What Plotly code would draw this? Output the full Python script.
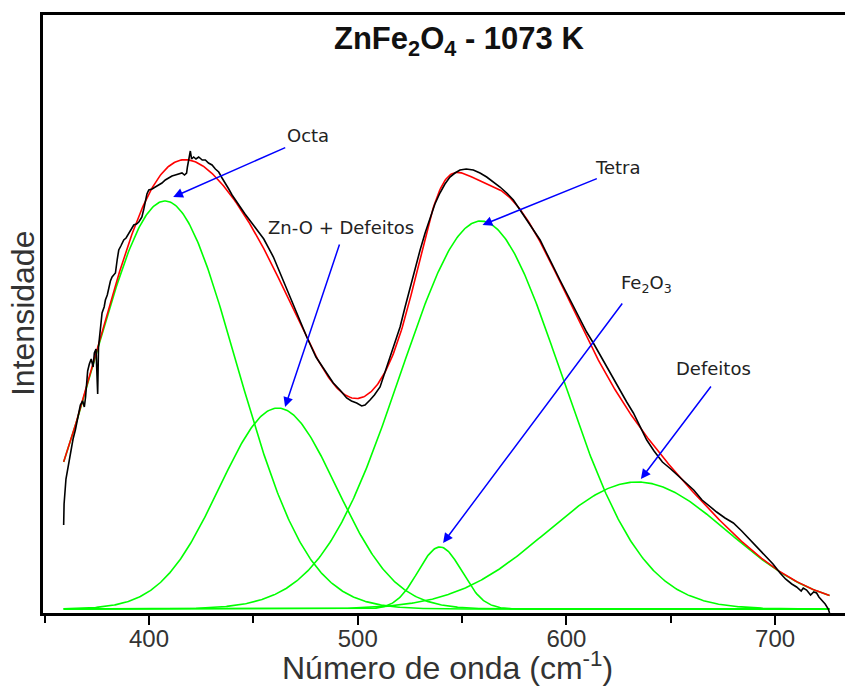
import numpy as np
import plotly.graph_objects as go

# Measured IR spectrum of ZnFe2O4 calcined at 1073 K (wavenumber in cm^-1, intensity in a.u.)
wavenumber = [
    359.1, 359.3, 360.2, 361.4, 362.5, 363.6, 364.7, 366.0, 367.1, 368.2,
    369.0, 369.6, 370.6, 371.4, 372.3, 373.2, 373.8, 374.6, 375.0, 375.4,
    375.8, 376.7, 377.5, 378.5, 379.1, 380.0, 380.7, 381.5, 382.3, 383.2,
    383.9, 384.8, 385.5, 386.5, 387.9, 389.0, 390.3, 391.5, 392.7, 394.0,
    395.1, 396.0, 396.6, 397.5, 398.2, 399.0, 399.9, 401.5, 403.0, 404.6,
    406.2, 407.8, 409.4, 411.0, 412.6, 414.2, 415.8, 417.0, 418.0, 418.4,
    419.2, 419.8, 420.4, 421.4, 422.5, 423.8, 425.5, 427.0, 428.5, 430.2,
    431.8, 433.4, 435.0, 436.6, 438.2, 439.8, 442.0, 444.6, 446.0, 450.0,
    455.0, 459.6, 464.0, 469.1, 472.0, 475.6, 480.0, 485.1, 488.3, 491.5,
    494.7, 497.0, 499.5, 501.9, 503.5, 505.9, 508.0, 510.7, 513.0, 515.5,
    518.0, 520.3, 522.7, 525.1, 527.5, 529.9, 532.3, 534.7, 537.0, 539.4,
    541.8, 544.2, 546.6, 549.0, 552.0, 555.4, 558.6, 561.8, 565.0, 568.2,
    571.4, 574.6, 577.8, 581.0, 584.2, 587.4, 590.5, 593.7, 596.9, 600.1,
    603.3, 606.5, 609.7, 612.9, 616.1, 619.3, 622.5, 625.7, 628.9, 632.1,
    635.3, 638.5, 642.0, 646.0, 650.0, 654.0, 657.5, 661.0, 665.0, 668.8,
    672.0, 676.0, 680.0, 684.0, 688.0, 691.2, 695.0, 699.0, 702.4, 705.0,
    708.0, 710.3, 712.5, 713.5, 715.1, 717.0, 718.5, 719.9, 721.0, 722.3,
    724.0, 725.5, 726.1,
]
intensity = [
    0.84, 1.05, 1.30, 1.44, 1.58, 1.70, 1.79, 1.92, 2.04, 2.08,
    2.02, 2.12, 2.38, 2.45, 2.50, 2.42, 2.56, 2.60, 2.20, 2.15,
    2.62, 2.82, 2.96, 3.02, 3.09, 3.14, 3.22, 3.28, 3.32, 3.34,
    3.36, 3.50, 3.59, 3.63, 3.69, 3.71, 3.76, 3.80, 3.84, 3.85,
    3.87, 3.90, 3.92, 4.00, 4.09, 4.15, 4.19, 4.20, 4.22, 4.24,
    4.26, 4.29, 4.31, 4.33, 4.34, 4.35, 4.36, 4.34, 4.36, 4.42,
    4.50, 4.58, 4.50, 4.52, 4.50, 4.52, 4.49, 4.49, 4.46, 4.44,
    4.40, 4.37, 4.31, 4.26, 4.20, 4.14, 4.07, 3.99, 3.95, 3.84,
    3.70, 3.52, 3.30, 3.06, 2.90, 2.72, 2.52, 2.36, 2.26, 2.19,
    2.11, 2.08, 2.06, 2.03, 2.04, 2.09, 2.14, 2.22, 2.36, 2.52,
    2.67, 2.82, 3.02, 3.22, 3.41, 3.59, 3.76, 3.92, 4.05, 4.16,
    4.25, 4.32, 4.36, 4.39, 4.40, 4.39, 4.36, 4.32, 4.27, 4.22,
    4.16, 4.09, 3.99, 3.89, 3.79, 3.69, 3.56, 3.42, 3.29, 3.16,
    3.03, 2.89, 2.77, 2.66, 2.54, 2.42, 2.30, 2.19, 2.07, 1.96,
    1.83, 1.69, 1.58, 1.47, 1.40, 1.32, 1.26, 1.19, 1.09, 1.02,
    0.97, 0.91, 0.86, 0.78, 0.69, 0.62, 0.53, 0.45, 0.36, 0.30,
    0.25, 0.22, 0.18, 0.21, 0.19, 0.14, 0.17, 0.16, 0.12, 0.09,
    0.05, 0.00, -0.04,
]

# Gaussian bands of the deconvolution: centre (cm^-1), height (a.u.), sigma (cm^-1)
band_names = ["Octa", "Zn-O + Defeitos", "Tetra", "Fe2O3", "Defeitos"]
band_centers = [407.7, 461.8, 559.0, 539.4, 634.0]
band_heights = [4.08, 2.01, 3.88, 0.62, 1.27]
band_sigmas = [34.0, 28.0, 38.5, 10.5, 43.5]

# wavenumber window in which the fit was evaluated
fit_start, fit_end = 359.1, 726.1

x_fit = np.linspace(fit_start, fit_end, 700)
bands = [
    h * np.exp(-((x_fit - c) ** 2) / (2.0 * s ** 2))
    for c, h, s in zip(band_centers, band_heights, band_sigmas)
]
cumulative = np.sum(bands, axis=0)

fig = go.Figure()

for name, yb in zip(band_names, bands):
    fig.add_trace(go.Scatter(
        x=x_fit, y=yb, mode="lines", name=name,
        line=dict(color="#00ff00", width=1.6),
    ))

fig.add_trace(go.Scatter(
    x=x_fit, y=cumulative, mode="lines", name="Ajuste",
    line=dict(color="#ff0000", width=1.6),
))

fig.add_trace(go.Scatter(
    x=wavenumber, y=intensity, mode="lines", name="Experimental",
    line=dict(color="#000000", width=1.6),
))

label_font = dict(family="DejaVu Sans", size=18, color="#222222")

# band labels with their pointing arrows: (text, text x, text y, tail x, tail y, head x, head y)
callouts = [
    ("Octa", 476.2, 4.74, 466.0, 4.62, 411.6, 4.12),
    ("Zn-O + Defeitos", 492.2, 3.82, 491.5, 3.66, 465.2, 2.02),
    ("Tetra", 624.7, 4.42, 615.3, 4.31, 559.8, 3.84),
    ("Fe<sub>2</sub>O<sub>3</sub>", 638.6, 3.25, 627.3, 3.07, 540.9, 0.66),
    ("Defeitos", 670.7, 2.41, 669.8, 2.24, 635.7, 1.30),
]

annotations = []
for text, tx, ty, ax, ay, hx, hy in callouts:
    annotations.append(dict(
        x=tx, y=ty, xref="x", yref="y", text=text, showarrow=False,
        font=label_font, xanchor="center", yanchor="middle",
    ))
    annotations.append(dict(
        x=hx, y=hy, xref="x", yref="y", ax=ax, ay=ay, axref="x", ayref="y",
        text="", showarrow=True, arrowhead=2, arrowsize=1.3, arrowwidth=1.5,
        arrowcolor="#0000ff", standoff=0, startstandoff=0,
    ))

annotations.append(dict(
    x=0.519, y=0.9565, xref="paper", yref="paper",
    text="<b>ZnFe<sub>2</sub>O<sub>4</sub> - 1073 K</b>", showarrow=False,
    font=dict(family="Liberation Sans", size=31, color="#111111"),
    xanchor="center", yanchor="middle",
))
annotations.append(dict(
    x=0.504, y=-0.089, xref="paper", yref="paper",
    text="Número de onda (cm<sup>-1</sup>)", showarrow=False,
    font=dict(family="Liberation Sans", size=32, color="#333333"),
    xanchor="center", yanchor="middle",
))
annotations.append(dict(
    x=-0.0249, y=0.5, xref="paper", yref="paper",
    text="Intensidade", showarrow=False, textangle=-90,
    font=dict(family="Liberation Sans", size=32, color="#333333"),
    xanchor="center", yanchor="middle",
))

fig.update_layout(
    width=845, height=689, autosize=False,
    margin=dict(l=43, r=0, t=15, b=76),
    plot_bgcolor="white", paper_bgcolor="white",
    showlegend=False,
    annotations=annotations,
    xaxis=dict(
        range=[349.2, 733.5],
        tick0=0, dtick=100,
        ticks="outside", ticklen=9, tickwidth=2, tickcolor="black",
        minor=dict(dtick=50, ticks="outside", ticklen=7, tickwidth=2, tickcolor="black"),
        showline=True, linewidth=3, linecolor="black", mirror=True,
        showgrid=False, zeroline=False,
        ticklabelstandoff=-7,
        tickfont=dict(family="Liberation Sans", size=24, color="#333333"),
    ),
    yaxis=dict(
        range=[-0.04, 5.94],
        showticklabels=False, ticks="",
        showline=True, linewidth=3, linecolor="black",
        showgrid=False, zeroline=False,
    ),
)

fig.write_html("out.html")
